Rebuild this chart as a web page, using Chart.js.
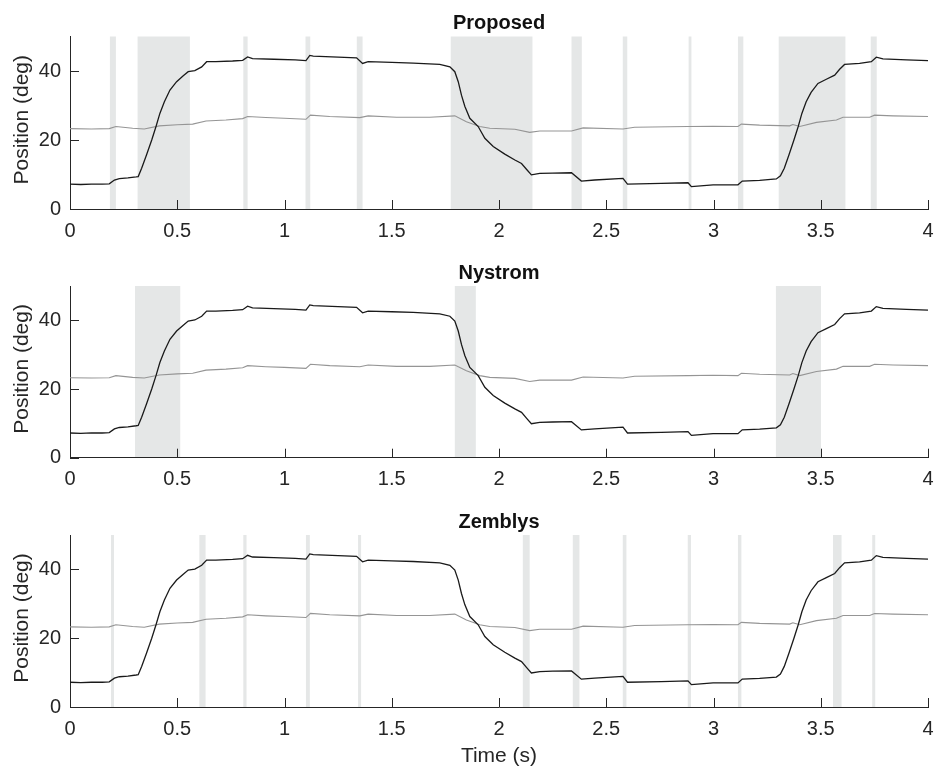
<!DOCTYPE html>
<html><head><meta charset="utf-8">
<script src="https://cdn.jsdelivr.net/npm/chart.js@4.4.1/dist/chart.umd.min.js"></script>
<style>
html,body{margin:0;padding:0;background:#fff;width:940px;height:770px;overflow:hidden}
canvas{position:absolute;left:0}
</style></head><body>
<canvas id="c0" width="940" height="250" style="top:0px"></canvas>
<canvas id="c1" width="940" height="250" style="top:250px"></canvas>
<canvas id="c2" width="940" height="270" style="top:500px"></canvas>
<script>
// ---- data ----
const panelTitles = ['Proposed', 'Nystrom', 'Zemblys'];
const xAxisTitle = 'Time (s)';
const yAxisTitle = 'Position (deg)';
const xTickVals = [0, 0.5, 1, 1.5, 2, 2.5, 3, 3.5, 4];
const xTickLabels = ['0', '0.5', '1', '1.5', '2', '2.5', '3', '3.5', '4'];
const yTickVals = [0, 20, 40];

const timeBlack = [0.00,0.05,0.10,0.15,0.183,0.207,0.23,0.27,0.308,0.318,0.334,0.357,0.381,0.401,0.419,0.44,0.466,0.497,0.528,0.551,0.582,0.614,0.637,0.68,0.758,0.805,0.828,0.851,0.95,1.05,1.10,1.118,1.134,1.25,1.336,1.364,1.39,1.5,1.6,1.724,1.771,1.794,1.81,1.825,1.841,1.864,1.903,1.934,1.973,2.027,2.074,2.105,2.131,2.151,2.19,2.25,2.338,2.384,2.446,2.578,2.599,2.757,2.881,2.897,2.998,3.114,3.134,3.215,3.293,3.312,3.33,3.352,3.375,3.395,3.412,3.432,3.455,3.487,3.526,3.565,3.588,3.611,3.681,3.736,3.759,3.79,3.9,4.0];
const posBlack = [7.2,7.1,7.2,7.2,7.3,8.4,8.8,9.0,9.3,9.4,11.8,15.7,20.0,23.9,27.7,31.1,34.5,36.9,38.6,39.8,40.1,41.2,42.7,42.7,42.9,43.1,44.1,43.6,43.4,43.2,43.0,44.5,44.3,44.0,43.8,42.2,42.7,42.5,42.3,41.9,41.2,39.8,36.9,33.0,29.7,26.3,23.9,20.5,18.1,15.9,14.2,13.2,11.3,9.9,10.3,10.4,10.5,8.1,8.4,8.9,7.2,7.4,7.6,6.5,7.0,7.0,8.1,8.3,8.7,9.6,11.8,15.7,20.0,23.9,27.7,31.1,33.8,36.4,37.6,38.8,40.5,41.9,42.2,42.7,44.0,43.5,43.2,43.0];

const timeGrey = [0.0,0.1,0.183,0.214,0.292,0.346,0.416,0.50,0.572,0.634,0.727,0.805,0.828,0.913,0.999,1.1,1.121,1.211,1.351,1.39,1.522,1.677,1.794,1.848,1.91,1.957,2.074,2.143,2.19,2.338,2.392,2.578,2.632,2.881,2.998,3.114,3.13,3.215,3.355,3.37,3.402,3.48,3.573,3.604,3.728,3.751,3.837,4.0];
const posGrey = [23.3,23.2,23.3,23.9,23.4,23.2,24.1,24.4,24.6,25.5,25.8,26.2,26.8,26.5,26.3,26.0,27.2,26.8,26.5,27.0,26.6,26.6,27.0,25.3,23.9,23.4,23.1,22.2,22.6,22.6,23.5,23.2,23.7,23.9,24.0,23.9,24.6,24.3,24.1,24.5,23.9,25.1,25.8,26.6,26.6,27.2,27.0,26.8];

const bandsProposed = [[0.186,0.214],[0.315,0.559],[0.808,0.828],[1.098,1.120],[1.337,1.364],[1.775,2.156],[2.338,2.386],[2.577,2.598],[2.884,2.897],[3.114,3.139],[3.304,3.615],[3.733,3.761]];
const bandsNystrom = [[0.303,0.514],[1.794,1.892],[3.291,3.501]];
const bandsZemblys = [[0.191,0.205],[0.603,0.632],[0.808,0.823],[1.100,1.118],[1.343,1.357],[2.111,2.143],[2.344,2.375],[2.577,2.594],[2.880,2.895],[3.114,3.130],[3.557,3.597],[3.740,3.754]];
const panelBands = [bandsProposed, bandsNystrom, bandsZemblys];

// ---- layout / style ----
const layouts = [
  {h:250, plotTop:36.5, plotBottom:209},
  {h:250, plotTop:36, plotBottom:207.7},
  {h:270, plotTop:35, plotBottom:207}
];
const AX = '#262626';
const FONT = "'Liberation Sans', Arial, Helvetica, sans-serif";

function pts(xs, ys){ return xs.map((x,i)=>({x:x, y:ys[i]})); }

const decor = {
  id:'decor',
  beforeDraw(chart, args, opts){
    const {ctx, chartArea:a, scales:{x}} = chart;
    ctx.save();
    ctx.fillStyle = '#e5e7e7';
    opts.bands.forEach(b=>{
      const x1 = x.getPixelForValue(b[0]), x2 = x.getPixelForValue(b[1]);
      ctx.fillRect(x1, a.top, x2-x1, a.bottom-a.top);
    });
    ctx.restore();
  },
  afterDraw(chart, args, opts){
    const {ctx, chartArea:a, scales:{x,y}} = chart;
    ctx.save();
    ctx.strokeStyle = AX; ctx.lineWidth = 1;
    ctx.beginPath();
    xTickVals.forEach(v=>{ const p = Math.round(x.getPixelForValue(v))+0.5; ctx.moveTo(p, a.bottom); ctx.lineTo(p, a.bottom-9); });
    yTickVals.forEach(v=>{ const p = Math.round(y.getPixelForValue(v))+0.5; ctx.moveTo(a.left, p); ctx.lineTo(a.left+9, p); });
    ctx.stroke();
    ctx.fillStyle = '#111';
    ctx.textAlign = 'center'; ctx.textBaseline = 'alphabetic';
    ctx.font = 'bold 20px ' + FONT;
    ctx.fillText(opts.title, (a.left+a.right)/2, a.top - 7.5);
    ctx.fillStyle = AX;
    ctx.font = '21px ' + FONT;
    ctx.save();
    ctx.translate(22, (a.top+a.bottom)/2 - 3);
    ctx.rotate(-Math.PI/2);
    ctx.textBaseline = 'middle';
    ctx.fillText(yAxisTitle, 0, 0);
    ctx.restore();
    if (opts.xtitle){
      ctx.textBaseline = 'middle';
      ctx.fillText(opts.xtitle, (a.left+a.right)/2, a.bottom + 49);
    }
    ctx.restore();
  }
};

panelTitles.forEach((title, i)=>{
  const L = layouts[i];
  new Chart(document.getElementById('c'+i), {
    type:'line',
    data:{ datasets:[
      {data:pts(timeBlack,posBlack), borderColor:'#1a1a1a', borderWidth:1.3, pointRadius:0, tension:0, fill:false},
      {data:pts(timeGrey,posGrey), borderColor:'#959595', borderWidth:1.1, pointRadius:0, tension:0, fill:false}
    ]},
    options:{
      responsive:false, animation:false, events:[],
      layout:{padding:{left:0, right:12, top:L.plotTop, bottom:0}},
      plugins:{legend:{display:false}, tooltip:{enabled:false}, title:{display:false},
        decor:{bands:panelBands[i], title:title, xtitle: i===2 ? xAxisTitle : null}},
      scales:{
        x:{type:'linear', min:0, max:4,
          afterBuildTicks(s){ s.ticks = xTickVals.map(v=>({value:v})); },
          afterFit(s){ s.height = L.h - L.plotBottom; s.paddingLeft = 0; s.paddingRight = 0; },
          grid:{drawOnChartArea:false, drawTicks:false},
          border:{display:true, color:AX, width:1},
          ticks:{color:AX, font:{size:20, family:FONT}, padding:10, maxRotation:0, autoSkip:false,
            callback(v){ const k = xTickVals.indexOf(v); return k>=0 ? xTickLabels[k] : ''; }}
        },
        y:{type:'linear', min:0, max:50,
          afterBuildTicks(s){ s.ticks = yTickVals.map(v=>({value:v})); },
          afterFit(s){ s.width = 70; s.paddingTop = 0; s.paddingBottom = 0; },
          grid:{drawOnChartArea:false, drawTicks:false},
          border:{display:true, color:AX, width:1},
          ticks:{color:AX, font:{size:20, family:FONT}, padding:9}
        }
      }
    },
    plugins:[decor]
  });
});
</script>
</body></html>
